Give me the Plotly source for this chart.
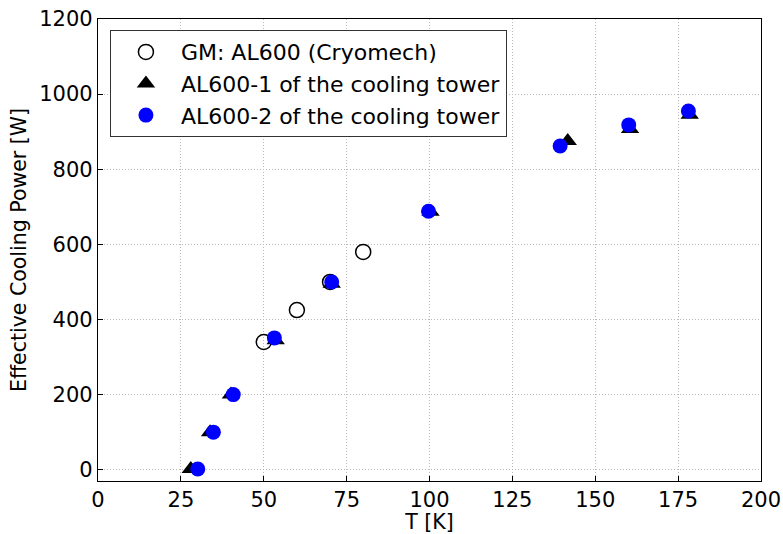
import plotly.graph_objects as go

gm_T = [50, 60, 70, 80]
gm_P = [340, 425, 500, 580]

al1_T = [28, 33.8, 40.1, 53.6, 70.5, 100.3, 141.7, 160.5, 178.5]
al1_P = [2, 100, 200, 345, 495, 687, 875, 907, 945]

al2_T = [30.1, 34.8, 40.8, 53.2, 70.5, 99.7, 139.4, 160.1, 178.1]
al2_P = [2, 100, 200, 351, 500, 688, 862, 918, 955]

font = "DejaVu Sans"
fig = go.Figure()
fig.add_trace(go.Scatter(x=gm_T, y=gm_P, mode="markers", name="GM: AL600 (Cryomech)", legendgroup="a",
                         marker=dict(symbol="circle-open", size=15, color="black", line=dict(width=1.5))))
fig.add_trace(go.Scatter(x=al1_T, y=al1_P, mode="markers", name="AL600-1 of the cooling tower", legendgroup="b",
                         marker=dict(symbol="triangle-up", size=16, color="black")))
fig.add_trace(go.Scatter(x=al2_T, y=al2_P, mode="markers", name="AL600-2 of the cooling tower", legendgroup="c",
                         marker=dict(symbol="circle", size=15, color="blue")))

axis_common = dict(showline=True, linecolor="black", linewidth=1.2, mirror=True,
                   ticks="inside", ticklen=5, tickcolor="black", automargin=False,
                   showgrid=True, gridcolor="#b8b8b8", griddash="1px,2px", gridwidth=1,
                   zeroline=False, tickfont=dict(size=21, color="black", family=font),
                   title_font=dict(size=20.5, color="black", family=font))
fig.update_xaxes(range=[0, 200], tick0=0, dtick=25, title_text="T [K]", title_standoff=8, **axis_common)
fig.update_yaxes(range=[-30, 1200], tick0=0, dtick=200, title_text="Effective Cooling Power [W]",
                 title_standoff=7, **axis_common)

fig.update_layout(
    width=783, height=534,
    margin=dict(l=98, r=22, t=19, b=53),
    plot_bgcolor="white", paper_bgcolor="white",
    font=dict(family=font, size=21, color="black"),
    legend=dict(x=0.018, y=0.976, xanchor="left", yanchor="top",
                bordercolor="#333333", borderwidth=1, bgcolor="white",
                tracegroupgap=0, itemwidth=60,
                font=dict(size=22, family=font, color="black")),
)
fig.write_html("out.html")
